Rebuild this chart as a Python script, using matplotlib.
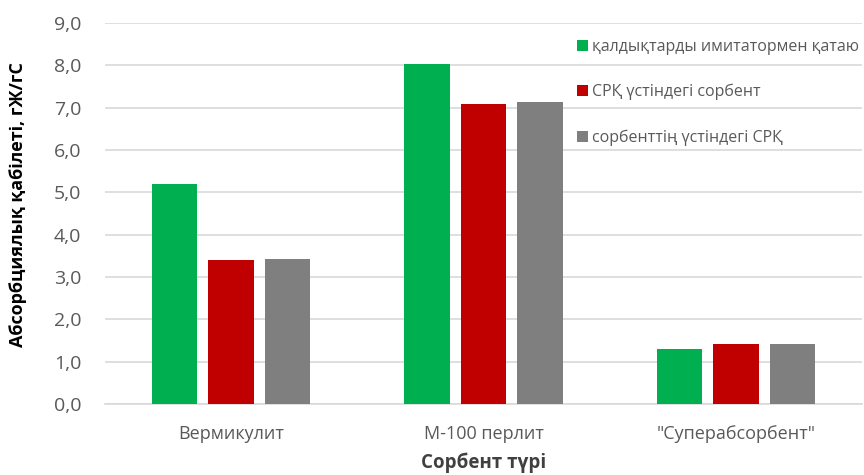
import matplotlib
matplotlib.use("Agg")
import matplotlib.pyplot as plt
import numpy as np

plt.rcParams['font.family'] = ['Open Sans', 'DejaVu Sans']

categories = ['Вермикулит', 'М-100 перлит', '"Суперабсорбент"']
series_names = ['қалдықтарды имитатормен қатаю',
                'СРҚ үстіндегі сорбент',
                'сорбенттің үстіндегі СРҚ']
green_vals = [5.20, 8.04, 1.30]
red_vals = [3.40, 7.08, 1.41]
gray_vals = [3.43, 7.14, 1.42]
yticks = [0, 1, 2, 3, 4, 5, 6, 7, 8, 9]
ytick_labels = ['0,0', '1,0', '2,0', '3,0', '4,0', '5,0', '6,0', '7,0', '8,0', '9,0']
colors = ['#00B050', '#C00000', '#7F7F7F']

fig = plt.figure(figsize=(8.64, 4.75), dpi=100)
ax = fig.add_axes([105/864, 1-404/475, (862-105)/864, (404-23)/475])

x = np.arange(len(categories))
w = 0.18
offs = [-0.224, 0.0, 0.224]
for vals, c, o, name in zip([green_vals, red_vals, gray_vals], colors, offs, series_names):
    ax.bar(x + o, vals, width=w, color=c, label=name, zorder=3)

ax.set_xlim(-0.5, 2.5)
ax.set_ylim(0, 9)
ax.set_yticks(yticks)
ax.set_yticklabels(ytick_labels)
ax.set_xticks(x)
ax.set_xticklabels(categories)
ax.yaxis.grid(True, color='#D9D9D9', linewidth=1.2, zorder=0)
ax.set_axisbelow(True)
for s in ['top', 'right', 'left']:
    ax.spines[s].set_visible(False)
ax.spines['bottom'].set_color('#D9D9D9')
ax.spines['bottom'].set_linewidth(1.2)
ax.tick_params(axis='both', length=0, colors='#595959')
ax.tick_params(axis='y', labelsize=14, pad=17)
ax.tick_params(axis='x', labelsize=13, pad=15)

ax.set_xlabel('Сорбент түрі', fontsize=13.5, fontweight='bold', color='#404040')
ax.xaxis.set_label_coords(0.5, -(463-404)/381, transform=ax.transAxes)
ax.xaxis.label.set_va('center')
ax.set_ylabel('Абсорбциялық қабілеті, гЖ/гС', fontsize=13, fontweight='bold', color='#000000')
ax.yaxis.set_label_coords(-(105-18)/757, (404-205)/381)
ax.yaxis.label.set_va('center')

handles, labels = ax.get_legend_handles_labels()
leg = fig.legend(handles, labels, loc='upper left', bbox_to_anchor=(563/864, 1-25/475),
                 frameon=False, fontsize=11.5, handlelength=0.68, handleheight=0.68,
                 handletextpad=0.25, labelspacing=1.8, labelcolor='#595959')

fig.savefig('out.png', dpi=100)
